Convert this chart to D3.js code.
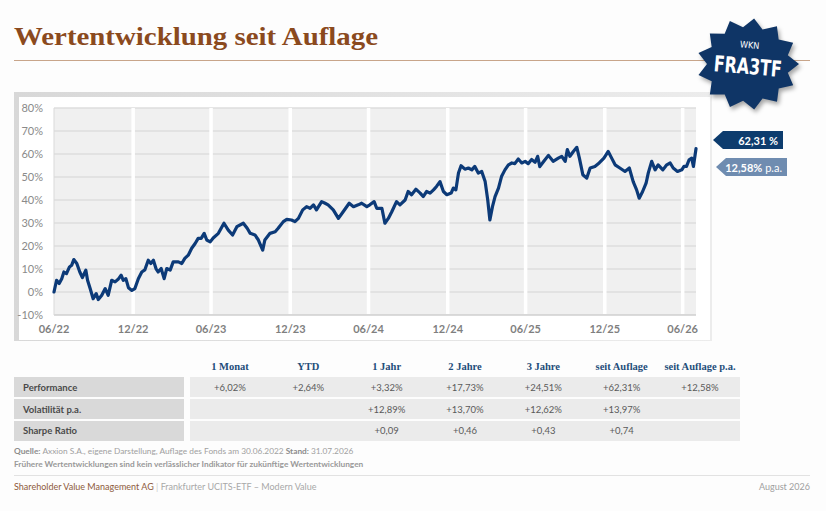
<!DOCTYPE html>
<html>
<head>
<meta charset="utf-8">
<script src="https://cdn.jsdelivr.net/npm/d3@7"></script>
<style>
  body { margin: 0; background: #fdfdfd; }
  svg { display: block; }
</style>
</head>
<body>
<div id="chart"></div>
<script>
const dates = ["2022-06-30","2022-07-06","2022-07-12","2022-07-18","2022-07-23","2022-07-29","2022-08-05","2022-08-10","2022-08-15","2022-08-22","2022-08-29","2022-09-04","2022-09-12","2022-09-16","2022-09-22","2022-09-29","2022-10-06","2022-10-11","2022-10-19","2022-10-27","2022-11-03","2022-11-11","2022-11-19","2022-11-26","2022-12-03","2022-12-08","2022-12-14","2022-12-20","2022-12-28","2023-01-04","2023-01-12","2023-01-20","2023-01-27","2023-02-04","2023-02-10","2023-02-16","2023-02-22","2023-02-27","2023-03-06","2023-03-13","2023-03-19","2023-03-27","2023-04-03","2023-04-15","2023-04-23","2023-04-30","2023-05-08","2023-05-16","2023-05-24","2023-05-31","2023-06-07","2023-06-14","2023-06-20","2023-06-28","2023-07-05","2023-07-17","2023-07-30","2023-08-09","2023-08-19","2023-08-29","2023-09-13","2023-09-22","2023-09-29","2023-10-10","2023-10-18","2023-10-28","2023-11-02","2023-11-14","2023-11-26","2023-12-03","2023-12-15","2023-12-23","2024-01-03","2024-01-11","2024-01-19","2024-01-29","2024-02-07","2024-02-15","2024-02-23","2024-03-01","2024-03-13","2024-03-21","2024-03-28","2024-04-09","2024-04-21","2024-05-02","2024-05-16","2024-05-26","2024-06-06","2024-06-14","2024-06-26","2024-07-03","2024-07-13","2024-07-19","2024-07-31","2024-08-07","2024-08-15","2024-08-23","2024-09-03","2024-09-11","2024-09-23","2024-09-30","2024-10-08","2024-10-18","2024-10-28","2024-11-04","2024-11-12","2024-11-20","2024-11-28","2024-12-05","2024-12-13","2024-12-21","2024-12-29","2025-01-08","2025-01-13","2025-01-19","2025-01-25","2025-01-31","2025-02-09","2025-02-17","2025-02-25","2025-03-04","2025-03-12","2025-03-20","2025-03-28","2025-04-03","2025-04-08","2025-04-14","2025-04-20","2025-04-28","2025-05-05","2025-05-13","2025-05-21","2025-05-29","2025-06-05","2025-06-13","2025-06-21","2025-06-29","2025-07-06","2025-07-14","2025-07-22","2025-07-28","2025-08-02","2025-08-10","2025-08-22","2025-09-02","2025-09-14","2025-09-22","2025-09-30","2025-10-05","2025-10-11","2025-10-19","2025-10-27","2025-11-02","2025-11-10","2025-11-19","2025-11-27","2025-12-08","2025-12-18","2025-12-29","2026-01-08","2026-01-16","2026-01-24","2026-02-04","2026-02-16","2026-02-26","2026-03-07","2026-03-15","2026-03-21","2026-03-29","2026-04-06","2026-04-11","2026-04-19","2026-04-27","2026-05-04","2026-05-15","2026-05-24","2026-06-01","2026-06-08","2026-06-18","2026-06-28","2026-07-03","2026-07-09","2026-07-15","2026-07-21","2026-07-25","2026-07-31"];
const values = [0,5.1,3.7,5.8,8.7,8.0,10.9,11.6,14.1,12.4,8.7,6.3,9.5,5.1,1.5,-2.9,-0.7,-3.3,-1.4,1.5,-1.4,5.1,4.4,5.5,7.3,5.1,5.8,1.9,0.7,1.5,5.8,8.7,9.6,13.8,12.4,13.8,10.2,8.7,10.2,5.8,10.2,9.5,13.1,13.1,12.4,14.6,16.0,19.0,21.1,23.3,23.3,25.5,22.6,21.8,23.5,25.5,29.9,26.9,24.8,28.4,29.9,27.7,25.5,24.8,22.6,18.2,22.6,25.5,26.2,27.7,30.6,31.6,31.3,30.6,32.0,35.7,37.1,36.4,37.9,35.7,39.3,38.6,37.9,35.7,32.0,34.9,38.6,37.1,37.9,38.6,37.1,37.9,39.3,36.4,36.4,29.9,32.0,34.9,39.3,37.9,40.0,43.7,42.3,44.7,43.0,41.5,43.7,43.0,44.4,45.9,48.0,43.7,42.3,43.0,45.2,44.4,51.7,54.9,53.4,53.9,53.1,54.6,51.7,52.4,48.0,40.0,31.3,37.1,41.5,45.2,50.2,53.1,55.3,56.1,55.8,57.8,56.1,56.8,55.8,57.6,56.4,59.0,54.5,56.5,59.4,56.8,58.2,59.0,56.8,61.9,59.0,61.1,62.9,58.2,51.0,49.5,53.9,54.6,56.1,58.2,61.1,58.2,55.3,53.9,52.4,53.9,48.0,44.4,40.8,43.7,47.3,51.7,56.8,53.1,55.3,53.1,55.3,56.1,53.9,52.4,53.1,54.6,54.6,57.5,58.2,54.6,62.31];

const yTicks = [-10, 0, 10, 20, 30, 40, 50, 60, 70, 80];
const xTickDates = ["2022-06-30","2022-12-31","2023-06-30","2023-12-31","2024-06-30","2024-12-31","2025-06-30","2025-12-31","2026-06-30"];

// table
const columns = ["1 Monat", "YTD", "1 Jahr", "2 Jahre", "3 Jahre", "seit Auflage", "seit Auflage p.a."];
const rowLabels = ["Performance", "Volatilität p.a.", "Sharpe Ratio"];
const performance = ["+6,02%", "+2,64%", "+3,32%", "+17,73%", "+24,51%", "+62,31%", "+12,58%"];
const volatility = ["", "", "+12,89%", "+13,70%", "+12,62%", "+13,97%", ""];
const sharpe = ["", "", "+0,09", "+0,46", "+0,43", "+0,74", ""];

const totalLabel = "62,31 %";
const annualLabel = "12,58%";

const width = 826, height = 511;
const font = "Lato, 'Open Sans', sans-serif";
const parse = d3.timeParse("%Y-%m-%d");
const series = dates.map((d, i) => ({date: parse(d), value: values[i]}));

var svg = d3.select("#chart")
            .append("svg")
            .attr("width", width)
            .attr("height", height);

const defs = svg.append("defs");
defs.append("filter").attr("id", "blur")
    .append("feGaussianBlur").attr("stdDeviation", 2);
var frameGrad = defs.append("linearGradient")
    .attr("id", "frame").attr("x1", "0%").attr("x2", "100%").attr("y1", "0%").attr("y2", "0%");
frameGrad.append("stop").attr("offset", "0%").style("stop-color", "#d8d8d8");
frameGrad.append("stop").attr("offset", "100%").style("stop-color", "#ececec");

// title
svg.append("text")
    .attr("x", 14)
    .attr("y", 45)
    .attr("textLength", 364)
    .attr("lengthAdjust", "spacingAndGlyphs")
    .text("Wertentwicklung seit Auflage")
    .style("font-family", "'Liberation Serif', 'DejaVu Serif', serif")
    .style("font-weight", "bold")
    .style("font-size", "26px")
    .attr("fill", "#8b4a1e");

svg.append("line")
    .attr("x1", 14).attr("x2", 810)
    .attr("y1", 60.5).attr("y2", 60.5)
    .attr("stroke", "#c8a58a")
    .attr("stroke-width", 1.2);

// chart frame
svg.append("rect")
    .attr("x", 14).attr("y", 92)
    .attr("width", 698).attr("height", 249)
    .attr("fill", "url(#frame)");
svg.append("rect")
    .attr("x", 19).attr("y", 97)
    .attr("width", 691).attr("height", 243)
    .attr("fill", "#ffffff");

const x = d3.scaleTime()
    .domain([parse("2022-06-30"), parse("2026-07-31")])
    .range([54, 696]);
const y = d3.scaleLinear()
    .domain([-10, 80])
    .range([315, 108]);

const g = svg.append("g");

g.append("rect")
    .attr("x", x.range()[0]).attr("y", y(80))
    .attr("width", x.range()[1] - x.range()[0])
    .attr("height", y(-10) - y(80))
    .attr("fill", "#f0f0f0");

// horizontal grid
g.selectAll("line.hgrid")
    .data(yTicks)
    .join("line")
    .attr("class", "hgrid")
    .attr("x1", x.range()[0]).attr("x2", x.range()[1])
    .attr("y1", d => y(d)).attr("y2", d => y(d))
    .attr("stroke", d => d == -10 ? "#cfcfcf" : "#dedede")
    .attr("stroke-width", 1.3);

// vertical white grid
const xTicks = xTickDates.map(parse);
g.selectAll("line.vgrid")
    .data(xTicks.slice(1))
    .join("line")
    .attr("class", "vgrid")
    .attr("x1", d => x(d)).attr("x2", d => x(d))
    .attr("y1", y(80)).attr("y2", y(-10) - 1)
    .attr("stroke", "#ffffff")
    .attr("stroke-width", 3.5);

g.append("line")
    .attr("x1", 54).attr("x2", 54)
    .attr("y1", y(80)).attr("y2", y(-10))
    .attr("stroke", "#d9d9d9");

// axis labels
g.selectAll("text.ylab")
    .data(yTicks)
    .join("text")
    .attr("class", "ylab")
    .attr("x", 43)
    .attr("y", d => y(d) + 4)
    .attr("text-anchor", "end")
    .text(d => d + "%")
    .style("font-family", font)
    .style("font-size", "11px")
    .attr("fill", "#8a8a8a");

const fmt = d3.timeFormat("%m/%y");
g.selectAll("text.xlab")
    .data(xTicks)
    .join("text")
    .attr("class", "xlab")
    .attr("x", d => x(d))
    .attr("y", 333)
    .attr("text-anchor", "middle")
    .text(d => fmt(d))
    .style("font-family", font)
    .style("font-weight", "bold")
    .style("font-size", "11px")
    .attr("fill", "#7f7f7f");

// performance line
const line = d3.line()
    .x(d => x(d.date))
    .y(d => y(d.value));
g.append("path")
    .datum(series)
    .attr("d", line)
    .attr("fill", "none")
    .attr("stroke", "#0c3a78")
    .attr("stroke-width", 3.2)
    .attr("stroke-linejoin", "round")
    .attr("stroke-linecap", "round");

// value tags on the right
function tag(x0, x1, yTop, h, fill) {
    const tip = 10;
    svg.append("path")
        .attr("d", `M${x0},${yTop + h / 2} L${x0 + tip},${yTop} L${x1},${yTop} L${x1},${yTop + h} L${x0 + tip},${yTop + h} Z`)
        .attr("fill", fill);
}
tag(713, 783, 131, 18, "#0d3c6e");
svg.append("text")
    .attr("x", 778).attr("y", 144.5)
    .attr("text-anchor", "end")
    .text(totalLabel)
    .style("font-family", font)
    .style("font-weight", "bold")
    .style("font-size", "11px")
    .attr("fill", "#ffffff");

tag(716, 787, 158, 18, "#6f8cb0");
var t2 = svg.append("text")
    .attr("x", 782).attr("y", 171.5)
    .attr("text-anchor", "end")
    .style("font-family", font)
    .style("font-size", "11px")
    .attr("fill", "#ffffff");
t2.append("tspan").style("font-weight", "bold").text(annualLabel);
t2.append("tspan").text(" p.a.");

// WKN badge
const cx = 748, cy = 64;
const nPts = 13;
const starPts = d3.range(nPts * 2).map(i => {
    const r = i % 2 == 0 ? 51 : 41;
    const a = i * Math.PI / nPts - Math.PI / 2 + 0.12;
    return [cx + r * Math.cos(a), cy + r * Math.sin(a) * 0.9];
});
svg.append("polygon")
    .attr("points", starPts.map(p => [p[0] + 2, p[1] + 3].join(",")).join(" "))
    .attr("fill", "rgba(0,0,0,0.35)")
    .attr("filter", "url(#blur)");
svg.append("polygon")
    .attr("points", starPts.map(p => p.join(",")).join(" "))
    .attr("fill", "#0f3566");

var badge = svg.append("g")
    .attr("transform", `rotate(5, ${cx}, ${cy})`);
badge.append("text")
    .attr("x", cx).attr("y", cy - 16)
    .attr("text-anchor", "middle")
    .text("WKN")
    .style("font-family", "'DejaVu Sans Condensed', 'Open Sans', sans-serif")
    .style("font-size", "9px")
    .attr("fill", "#ffffff");
badge.append("text")
    .attr("x", cx).attr("y", cy + 10)
    .attr("text-anchor", "middle")
    .attr("textLength", 68)
    .attr("lengthAdjust", "spacingAndGlyphs")
    .text("FRA3TF")
    .style("font-family", "'DejaVu Sans Condensed', 'Open Sans', sans-serif")
    .style("font-weight", "bold")
    .style("font-size", "22px")
    .attr("fill", "#ffffff");

// table
const colX = d3.scalePoint().domain(columns).range([230, 700]);
const rowY = d3.scaleBand().domain(rowLabels).range([377, 441]).paddingInner(0.09);
const tableRows = [performance, volatility, sharpe];

svg.selectAll("text.colhead")
    .data(columns)
    .join("text")
    .attr("class", "colhead")
    .attr("x", d => colX(d))
    .attr("y", 370)
    .attr("text-anchor", "middle")
    .text(d => d)
    .style("font-family", "'Liberation Serif', 'DejaVu Serif', serif")
    .style("font-weight", "bold")
    .style("font-size", "10.5px")
    .attr("fill", "#1f4e7a");

svg.selectAll("rect.rowlabel")
    .data(rowLabels)
    .join("rect")
    .attr("class", "rowlabel")
    .attr("x", 14).attr("y", d => rowY(d))
    .attr("width", 170).attr("height", rowY.bandwidth())
    .attr("fill", "#d9d9d9");

svg.selectAll("rect.rowvals")
    .data(rowLabels)
    .join("rect")
    .attr("class", "rowvals")
    .attr("x", 190).attr("y", d => rowY(d))
    .attr("width", 550).attr("height", rowY.bandwidth())
    .attr("fill", "#ebebeb");

svg.selectAll("text.rowlabel")
    .data(rowLabels)
    .join("text")
    .attr("class", "rowlabel")
    .attr("x", 23)
    .attr("y", d => rowY(d) + rowY.bandwidth() / 2 + 3.5)
    .text(d => d)
    .style("font-family", font)
    .style("font-weight", "bold")
    .style("font-size", "9.5px")
    .attr("fill", "#4a4a4a");

tableRows.forEach((row, ri) => {
    svg.selectAll("text.cell" + ri)
        .data(row)
        .join("text")
        .attr("class", "cell" + ri)
        .attr("x", (d, i) => colX(columns[i]))
        .attr("y", rowY(rowLabels[ri]) + rowY.bandwidth() / 2 + 3.5)
        .attr("text-anchor", "middle")
        .text(d => d)
        .style("font-family", font)
        .style("font-size", "9.5px")
        .attr("fill", "#5a5a5a");
});

// notes
var q = svg.append("text")
    .attr("x", 14).attr("y", 454)
    .style("font-family", font)
    .style("font-size", "8.3px")
    .attr("fill", "#a0a0a0");
q.append("tspan").style("font-weight", "bold").attr("fill", "#8c8c8c").text("Quelle: ");
q.append("tspan").text("Axxion S.A., eigene Darstellung, Auflage des Fonds am 30.06.2022 ");
q.append("tspan").style("font-weight", "bold").attr("fill", "#8c8c8c").text("Stand: ");
q.append("tspan").text("31.07.2026");

svg.append("text")
    .attr("x", 14).attr("y", 466.5)
    .text("Frühere Wertentwicklungen sind kein verlässlicher Indikator für zukünftige Wertentwicklungen")
    .style("font-family", font)
    .style("font-weight", "bold")
    .style("font-size", "8.3px")
    .attr("fill", "#999999");

svg.append("line")
    .attr("x1", 14).attr("x2", 810)
    .attr("y1", 475.5).attr("y2", 475.5)
    .attr("stroke", "#e2e2e2");

// footer
var f = svg.append("text")
    .attr("x", 14).attr("y", 489.5)
    .style("font-family", font)
    .style("font-size", "9px");
f.append("tspan").attr("fill", "#8d5a3b").text("Shareholder Value Management AG");
f.append("tspan").attr("fill", "#cccccc").text("  |  ");
f.append("tspan").attr("fill", "#a8a8a8").text("Frankfurter UCITS-ETF – Modern Value");

svg.append("text")
    .attr("x", 810).attr("y", 489.5)
    .attr("text-anchor", "end")
    .text("August 2026")
    .style("font-family", font)
    .style("font-size", "9px")
    .attr("fill", "#a0a0a0");
</script>
</body>
</html>
